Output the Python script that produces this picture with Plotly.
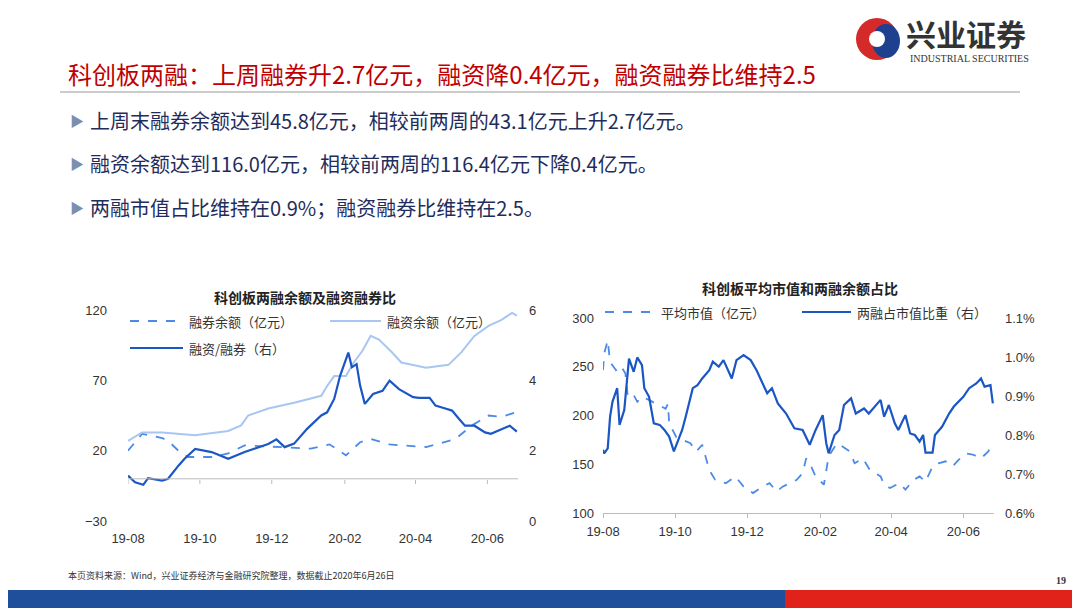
import plotly.graph_objects as go

# ---- left chart: 科创板两融余额及融资融券比 ----
short_dates = ['2019-08-01', '2019-08-13', '2019-08-30', '2019-09-04', '2019-09-14', '2019-09-21',
               '2019-10-11', '2019-10-25', '2019-11-08', '2019-12-06', '2020-01-03', '2020-01-19',
               '2020-02-02', '2020-02-14', '2020-02-23', '2020-03-10', '2020-04-10', '2020-04-21',
               '2020-05-05', '2020-05-19', '2020-06-02', '2020-06-13', '2020-06-24']
short_bal = [20, 32, 29, 27, 19, 15.5, 15.5, 18, 23.8, 22.6, 21.4, 24.5, 16.7, 26, 28.4, 24.4,
             22.6, 25, 28.4, 38, 45, 44, 47]

margin_dates = ['2019-08-01', '2019-08-13', '2019-08-30', '2019-09-27', '2019-10-25', '2019-11-05',
                '2019-11-11', '2019-11-28', '2019-12-20', '2020-01-12', '2020-01-17', '2020-01-23',
                '2020-02-02', '2020-02-08', '2020-02-16', '2020-02-23', '2020-03-01', '2020-03-12',
                '2020-03-20', '2020-04-10', '2020-04-29', '2020-05-10', '2020-05-21', '2020-06-02',
                '2020-06-13', '2020-06-22', '2020-06-26']
margin_bal = [27, 33, 33, 31, 34, 38, 45, 50, 54, 59, 66, 73, 73, 82, 91, 101.6, 99, 90, 82.7,
              79, 81, 90, 101.6, 108.7, 113, 118, 116]

ratio_dates = ['2019-08-01', '2019-08-07', '2019-08-14', '2019-08-18', '2019-08-30', '2019-09-04',
               '2019-09-13', '2019-09-18', '2019-09-27', '2019-10-11', '2019-10-25', '2019-11-08',
               '2019-11-28', '2019-12-05', '2019-12-12', '2019-12-20', '2019-12-31', '2020-01-12',
               '2020-01-17', '2020-01-23', '2020-01-28', '2020-02-04', '2020-02-07', '2020-02-11',
               '2020-02-14', '2020-02-18', '2020-02-25', '2020-03-04', '2020-03-10', '2020-03-18',
               '2020-03-30', '2020-04-04', '2020-04-13', '2020-04-18', '2020-04-27', '2020-05-02',
               '2020-05-08', '2020-05-13', '2020-05-21', '2020-05-30', '2020-06-04', '2020-06-13',
               '2020-06-20', '2020-06-26']
ratio = [1.29, 1.1, 1.03, 1.22, 1.15, 1.2, 1.58, 1.77, 2.05, 1.96, 1.77, 1.96, 2.19, 2.32, 2.1,
         2.2, 2.62, 3.0, 3.09, 3.47, 4.13, 4.79, 4.37, 4.46, 3.85, 3.33, 3.61, 3.7, 3.99, 3.75,
         3.52, 3.5, 3.5, 3.28, 3.19, 3.14, 2.9, 2.71, 2.71, 2.52, 2.48, 2.62, 2.71, 2.54]

# ---- right chart: 科创板平均市值和两融余额占比 ----
cap_dates = ['2019-08-01', '2019-08-02', '2019-08-05', '2019-08-07', '2019-08-12', '2019-08-16',
             '2019-08-20', '2019-08-22', '2019-08-27', '2019-08-30', '2019-09-03', '2019-09-09',
             '2019-09-15', '2019-09-23', '2019-09-25', '2019-09-26', '2019-10-02', '2019-10-14',
             '2019-10-19', '2019-10-24', '2019-10-30', '2019-11-04', '2019-11-13', '2019-11-21',
             '2019-11-28', '2019-12-06', '2019-12-14', '2019-12-20', '2019-12-26', '2019-12-31',
             '2020-01-12', '2020-01-17', '2020-01-20', '2020-01-23', '2020-01-28', '2020-02-04',
             '2020-02-08', '2020-02-15', '2020-02-20', '2020-02-26', '2020-03-01', '2020-03-08',
             '2020-03-14', '2020-03-23', '2020-03-26', '2020-03-31', '2020-04-08', '2020-04-13',
             '2020-04-20', '2020-04-25', '2020-04-30', '2020-05-06', '2020-05-11', '2020-05-17',
             '2020-05-23', '2020-05-28', '2020-06-03', '2020-06-09', '2020-06-16', '2020-06-22',
             '2020-06-26']
avg_cap = [246.5, 263.5, 277, 255, 246.5, 251, 243, 219, 221, 214, 219, 216, 212, 207, 212, 192,
           178, 171.5, 163, 170, 144, 134, 130.6, 137.5, 127, 120.4, 127, 130.6, 122, 127, 134,
           141, 156, 151, 137.5, 129, 158, 171.5, 168, 163, 151, 156, 144, 137.5, 129, 125.6,
           130.6, 124, 134, 137.5, 132, 147.7, 151, 153, 148, 154.5, 161, 160, 156, 163, 171.5]

share_dates = ['2019-08-01', '2019-08-02', '2019-08-05', '2019-08-07', '2019-08-09', '2019-08-13',
               '2019-08-15', '2019-08-19', '2019-08-23', '2019-08-27', '2019-08-30', '2019-09-03',
               '2019-09-05', '2019-09-09', '2019-09-13', '2019-09-18', '2019-09-22', '2019-09-26',
               '2019-09-30', '2019-10-07', '2019-10-10', '2019-10-16', '2019-10-20', '2019-10-24',
               '2019-10-30', '2019-11-02', '2019-11-07', '2019-11-11', '2019-11-18', '2019-11-22',
               '2019-11-28', '2019-12-04', '2019-12-09', '2019-12-14', '2019-12-18', '2019-12-22',
               '2019-12-27', '2020-01-03', '2020-01-10', '2020-01-17', '2020-01-23', '2020-01-28',
               '2020-02-03', '2020-02-06', '2020-02-08', '2020-02-13', '2020-02-17', '2020-02-21',
               '2020-02-27', '2020-03-02', '2020-03-09', '2020-03-13', '2020-03-23', '2020-03-26',
               '2020-03-30', '2020-04-04', '2020-04-07', '2020-04-13', '2020-04-17', '2020-04-21',
               '2020-04-25', '2020-04-28', '2020-04-30', '2020-05-06', '2020-05-08', '2020-05-14',
               '2020-05-20', '2020-05-24', '2020-06-01', '2020-06-06', '2020-06-12', '2020-06-16',
               '2020-06-19', '2020-06-24', '2020-06-26']
share_pct = [0.762, 0.753, 0.766, 0.847, 0.885, 0.92, 0.826, 0.864, 0.996, 0.962, 0.999, 0.979,
             0.92, 0.898, 0.83, 0.826, 0.813, 0.796, 0.758, 0.813, 0.847, 0.92, 0.928, 0.945,
             0.966, 0.988, 0.975, 0.992, 0.945, 0.992, 1.005, 0.992, 0.966, 0.932, 0.907, 0.92,
             0.881, 0.855, 0.817, 0.813, 0.775, 0.813, 0.851, 0.779, 0.753, 0.8, 0.813, 0.877,
             0.894, 0.855, 0.868, 0.855, 0.89, 0.847, 0.877, 0.83, 0.813, 0.851, 0.804, 0.8,
             0.783, 0.8, 0.755, 0.755, 0.8, 0.821, 0.855, 0.873, 0.898, 0.92, 0.932, 0.945,
             0.924, 0.928, 0.881]

bullets = ['上周末融券余额达到45.8亿元，相较前两周的43.1亿元上升2.7亿元。',
           '融资余额达到116.0亿元，相较前两周的116.4亿元下降0.4亿元。',
           '两融市值占比维持在0.9%；融资融券比维持在2.5。']

W, H = 1080, 608
OFF = 8  # page body margin in the browser
CJK = 'Noto Sans CJK SC'
C_DASH = '#4D8AE6'
C_LIGHT = '#A8C6F2'
C_DARK = '#1A56C4'


def px(x):
    return (x - OFF) / W


def py(y):
    return 1 - (y - OFF) / H


fig = go.Figure()

fig.add_trace(go.Scatter(x=short_dates, y=short_bal, mode='lines', line=dict(color=C_DASH, width=1.8, dash='dash'),
                         xaxis='x', yaxis='y'))
fig.add_trace(go.Scatter(x=margin_dates, y=margin_bal, mode='lines', line=dict(color=C_LIGHT, width=2),
                         xaxis='x', yaxis='y'))
fig.add_trace(go.Scatter(x=ratio_dates, y=ratio, mode='lines', line=dict(color=C_DARK, width=2.2),
                         xaxis='x', yaxis='y2'))
fig.add_trace(go.Scatter(x=cap_dates, y=avg_cap, mode='lines', line=dict(color=C_DASH, width=1.8, dash='dash'),
                         xaxis='x2', yaxis='y3'))
fig.add_trace(go.Scatter(x=share_dates, y=share_pct, mode='lines', line=dict(color=C_DARK, width=2.2),
                         xaxis='x2', yaxis='y4'))

tickfont = dict(family='Liberation Sans, Arial', size=13, color='#333')
xcommon = dict(type='date', tickformat='%y-%m', dtick='M2', tick0='2019-08-01', showgrid=False,
               zeroline=False, tickfont=tickfont, automargin=False)
ycommon = dict(showgrid=False, zeroline=False, tickfont=tickfont, automargin=False)

fig.update_layout(
    width=W, height=H, margin=dict(l=0, r=0, t=0, b=0, autoexpand=False), showlegend=False,
    paper_bgcolor='white', plot_bgcolor='rgba(0,0,0,0)',
    xaxis=dict(domain=[px(128), px(518)], range=['2019-08-01', '2020-06-27'], anchor='y',
               ticklabelstandoff=8, **xcommon),
    yaxis=dict(domain=[py(521), py(310)], range=[-30, 120], dtick=50, tick0=-30, anchor='x',
               ticklabelstandoff=20, **ycommon),
    yaxis2=dict(overlaying='y', side='right', range=[0, 6], dtick=2, anchor='x',
                ticklabelstandoff=10, **ycommon),
    xaxis2=dict(domain=[px(603), px(994)], range=['2019-08-01', '2020-06-27'], anchor='y3',
                showline=True, linecolor='#bbb', ticks='outside', tickcolor='#bbb', ticklen=4,
                ticklabelstandoff=2, **xcommon),
    yaxis3=dict(domain=[py(513), py(318)], range=[100, 300], dtick=50, anchor='x2',
                ticklabelstandoff=8, **ycommon),
    yaxis4=dict(overlaying='y3', side='right', range=[0.6, 1.1], dtick=0.1, tickformat='.1f', ticksuffix='%',
                anchor='x2', ticklabelstandoff=10, **ycommon),
)

shapes = []
ann = []


def text(x, y, t, size, color, family=CJK, xanchor='left'):
    ann.append(dict(x=px(x), y=py(y), xref='paper', yref='paper', text=t, showarrow=False,
                    xanchor=xanchor, yanchor='middle', font=dict(family=family, size=size, color=color)))


# x axis line of left chart sits on the zero line
shapes.append(dict(type='line', xref='x', yref='y', x0='2019-08-01', x1='2020-06-27', y0=0, y1=0,
                   line=dict(color='#bbb', width=1)))
for m in ['2019-08-01', '2019-10-01', '2019-12-01', '2020-02-01', '2020-04-01', '2020-06-01']:
    shapes.append(dict(type='line', xref='x', yref='paper', x0=m, x1=m, y0=py(480), y1=py(484),
                       line=dict(color='#bbb', width=1)))


def leg(x0, x1, y, color, dash, t):
    shapes.append(dict(type='line', xref='paper', yref='paper', x0=px(x0), x1=px(x1), y0=py(y), y1=py(y),
                       line=dict(color=color, width=2, dash=dash)))
    text(x1 + 4, y, t, 13, '#333')


leg(130, 183, 321, C_DASH, 'dash', '融券余额（亿元）')
leg(330, 381, 321, C_LIGHT, 'solid', '融资余额（亿元）')
leg(130, 183, 348, C_DARK, 'solid', '融资/融券（右）')
leg(605, 655, 312, C_DASH, 'dash', '平均市值（亿元）')
leg(802, 851, 312, C_DARK, 'solid', '两融占市值比重（右）')

text(305, 297, '<b>科创板两融余额及融资融券比</b>', 14, '#222', xanchor='center')
text(800, 288, '<b>科创板平均市值和两融余额占比</b>', 14, '#222', xanchor='center')

# slide title
text(66, 73, '科创板两融：上周融券升2.7亿元，融资降0.4亿元，融资融券比维持2.5', 24, '#C00000')
shapes.append(dict(type='line', xref='paper', yref='paper', x0=px(60), x1=px(1020), y0=py(92), y1=py(92),
                   line=dict(color='#999', width=1)))

for i, t in enumerate(bullets):
    y = 120 + i * 43.5
    text(68, y, '▶', 14, '#7D8FB0')
    text(88, y, t, 20, '#1F2D5C')

# logo
shapes.append(dict(type='circle', xref='paper', yref='paper', x0=px(856), x1=px(898), y0=py(60), y1=py(18),
                   fillcolor='#D42A2A', line=dict(width=0)))
shapes.append(dict(type='circle', xref='paper', yref='paper', x0=px(872), x1=px(900), y0=py(58), y1=py(24),
                   fillcolor='#1F3F8F', line=dict(width=0)))
shapes.append(dict(type='circle', xref='paper', yref='paper', x0=px(869), x1=px(885), y0=py(47), y1=py(31),
                   fillcolor='white', line=dict(width=0)))
text(904, 33, '<b>兴业证券</b>', 30, '#333')
text(908, 58, 'INDUSTRIAL SECURITIES', 10, '#333', family='Liberation Serif')

# footer
text(66, 575, '本页资料来源：Wind，兴业证券经济与金融研究院整理，数据截止2020年6月26日', 9, '#333')
text(1068, 580, '<b>19</b>', 10, '#333', family='Liberation Serif', xanchor='right')
shapes.append(dict(type='rect', xref='paper', yref='paper', x0=0, x1=px(785), y0=-0.05, y1=py(590),
                   fillcolor='#1F4E9A', line=dict(width=0)))
shapes.append(dict(type='rect', xref='paper', yref='paper', x0=px(785), x1=1, y0=-0.05, y1=py(590),
                   fillcolor='#E0221A', line=dict(width=0)))

fig.update_layout(shapes=shapes, annotations=ann)
fig.write_html('out.html')
